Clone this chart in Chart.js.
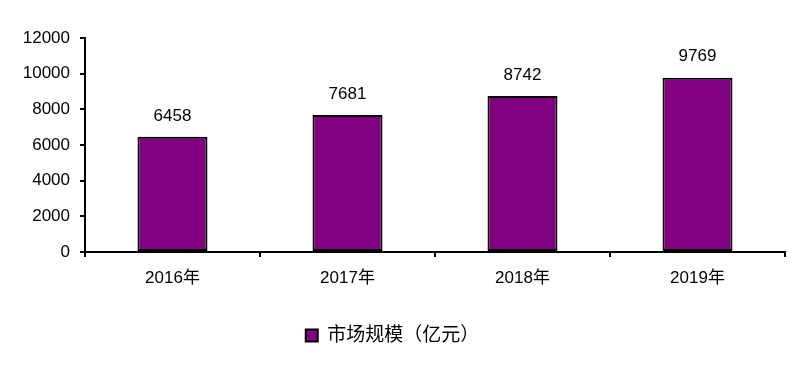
<!DOCTYPE html>
<html>
<head>
<meta charset="utf-8">
<script src="https://cdn.jsdelivr.net/npm/chart.js@4/dist/chart.umd.min.js"></script>
<style>
  html, body { margin: 0; padding: 0; background: #fff; }
  #wrap { width: 804px; height: 377px; }
</style>
</head>
<body>
<div id="wrap"><canvas id="marketChart" width="804" height="377"></canvas></div>
<script>
const years = ['2016年', '2017年', '2018年', '2019年'];
const marketSize = [6458, 7681, 8742, 9769];
const seriesName = '市场规模（亿元）';

const FONT = '"Liberation Sans", Arial, "Noto Sans CJK SC", sans-serif';

// draw the value above each bar
const valueLabels = {
  id: 'valueLabels',
  afterDatasetsDraw(chart) {
    const ctx = chart.ctx;
    const meta = chart.getDatasetMeta(0);
    ctx.save();
    ctx.font = '17px ' + FONT;
    ctx.fillStyle = '#000';
    ctx.textAlign = 'center';
    ctx.textBaseline = 'middle';
    meta.data.forEach((bar, i) => {
      ctx.fillText(String(chart.data.datasets[0].data[i]), bar.x, bar.y - 21);
    });
    ctx.restore();
  }
};

new Chart(document.getElementById('marketChart').getContext('2d'), {
  type: 'bar',
  data: {
    labels: years,
    datasets: [{
      label: seriesName,
      data: marketSize,
      backgroundColor: '#800080',
      borderColor: '#000',
      borderWidth: 2,
      borderSkipped: false,
      categoryPercentage: 0.4,
      barPercentage: 1
    }]
  },
  plugins: [valueLabels],
  options: {
    responsive: false,
    animation: false,
    layout: { padding: { left: 0, right: 19, top: 38, bottom: 22 } },
    plugins: {
      tooltip: { enabled: false },
      legend: {
        position: 'bottom',
        labels: {
          font: { size: 19, family: FONT },
          color: '#000',
          boxWidth: 12,
          boxHeight: 12,
          padding: 9
        }
      }
    },
    scales: {
      x: {
        afterFit(scale) { scale.height = 65; },
        grid: { drawOnChartArea: false, drawTicks: true, tickLength: 5, color: '#000', lineWidth: 2 },
        border: { color: '#000', width: 2 },
        ticks: { color: '#000', font: { size: 17, family: FONT }, padding: 11 }
      },
      y: {
        min: 0,
        max: 12000,
        afterFit(scale) { scale.width = 85; },
        grid: { drawOnChartArea: false, drawTicks: true, tickLength: 5, color: '#000', lineWidth: 2 },
        border: { color: '#000', width: 2 },
        ticks: {
          stepSize: 2000,
          color: '#000',
          font: { size: 17, family: FONT },
          padding: 10,
          callback: v => String(v)
        }
      }
    }
  }
});
</script>
</body>
</html>
